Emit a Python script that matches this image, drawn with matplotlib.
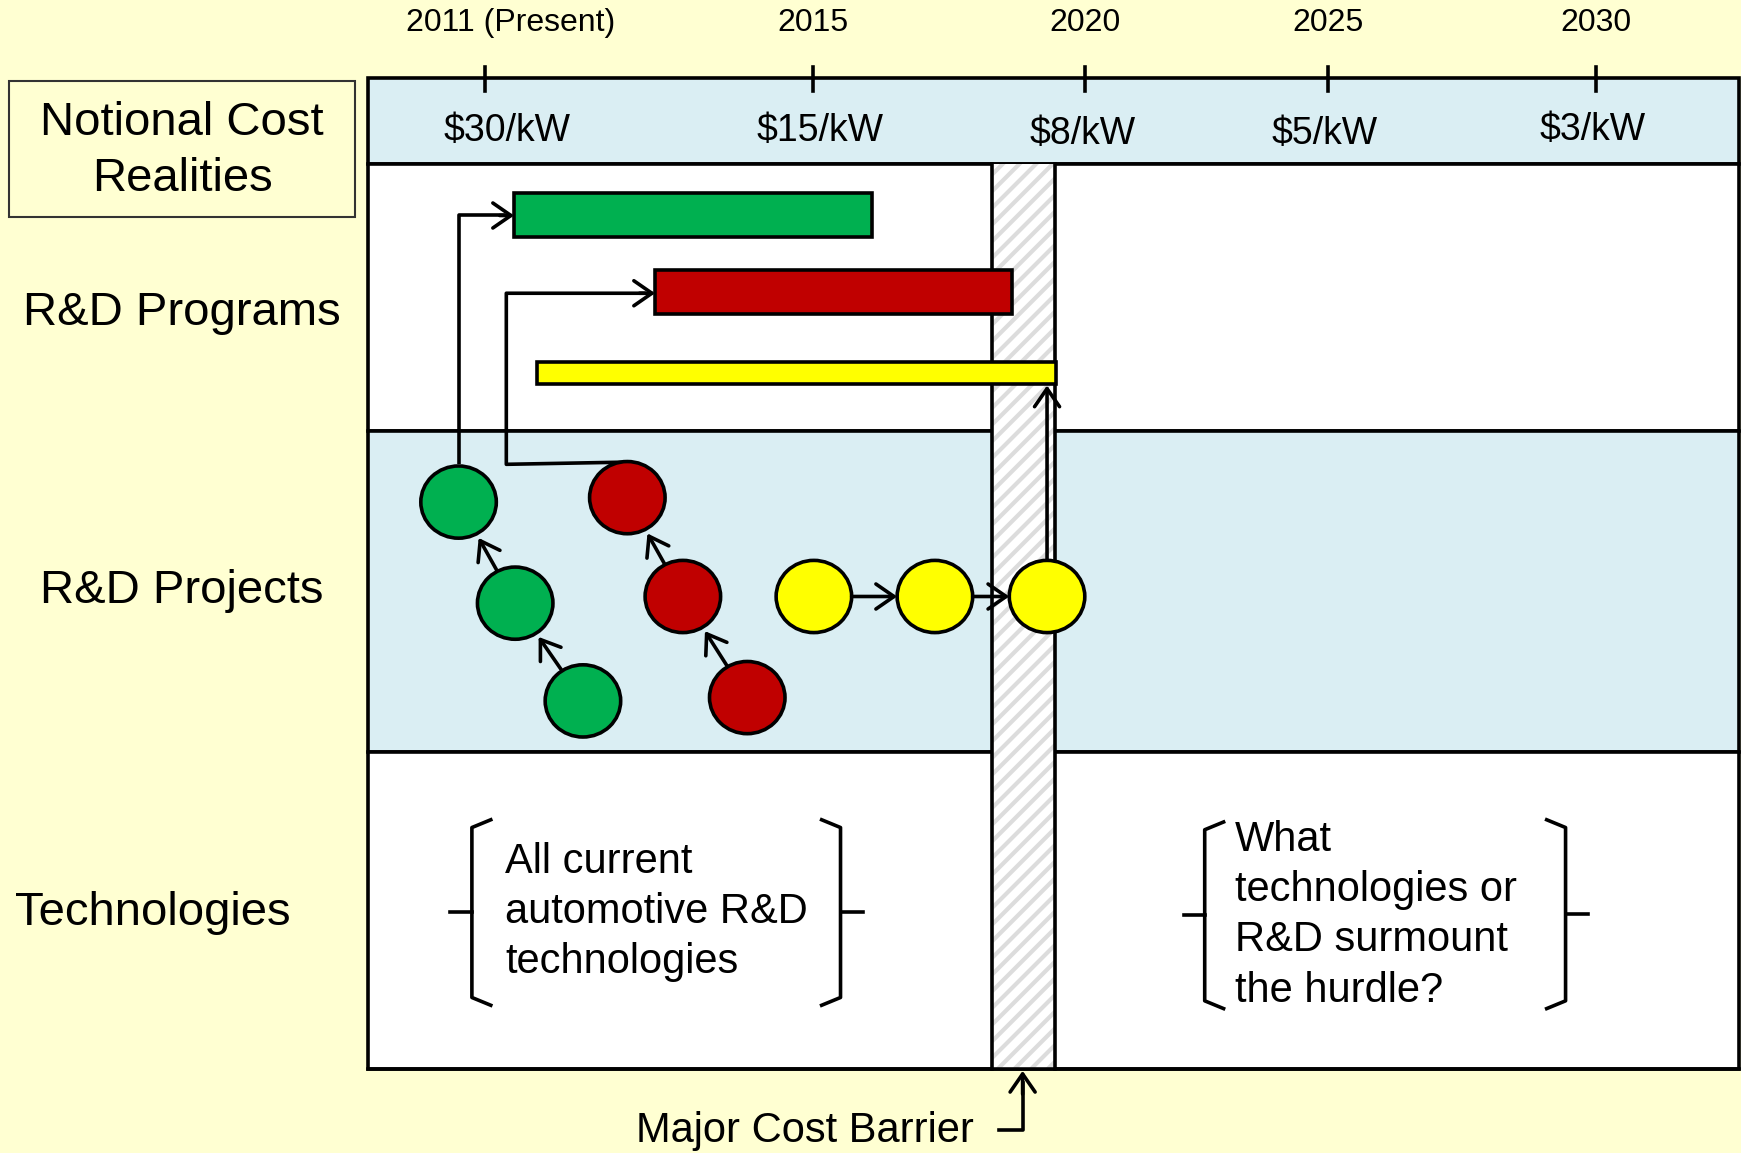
import matplotlib.pyplot as plt
from matplotlib.patches import Rectangle, Ellipse

plt.rcParams['font.family'] = ['Liberation Sans', 'DejaVu Sans']
plt.rcParams['hatch.linewidth'] = 3.0

# chart content (x / y in diagram units of a 1568 x 1038 canvas)
years = ['2011 (Present)', '2015', '2020', '2025', '2030']
year_x = [437, 732, 977, 1196, 1437]
costs = ['$30/kW', '$15/kW', '$8/kW', '$5/kW', '$3/kW']
cost_x = [457, 739, 975, 1193, 1434]
cost_y = [118, 118, 121, 121, 117]

row_labels = ['R&D Programs', 'R&D Projects', 'Technologies']
row_label_x = [164, 164, 138]
row_label_y = [282, 532, 822]
row_tops = [148, 388, 677]
row_bottoms = [388, 677, 962]
row_colors = ['white', '#DAEEF3', 'white']

# program bars: start, end, top, bottom
bar_colors = ['#00B050', '#C00000', '#FFFF00']
bar_start = [463, 590, 484]
bar_end = [785, 911, 951]
bar_top = [174, 243, 326]
bar_bottom = [213, 283, 346]

# project circles
green_x = [413, 464, 525]
green_y = [452, 543, 631]
red_x = [565, 615, 673]
red_y = [448, 537, 628]
yellow_x = [733, 842, 943]
yellow_y = [537, 537, 537]

left_text = 'All current\nautomotive R&D\ntechnologies'
right_text = 'What\ntechnologies or\nR&D surmount\nthe hurdle?'

W, H = 1568, 1038
BG = '#FFFFD2'
LW = 2.6

fig = plt.figure(figsize=(17.41, 11.53), dpi=100, facecolor=BG)
ax = fig.add_axes([0, 0, 1, 1])
ax.set_xlim(0, W)
ax.set_ylim(H, 0)
ax.axis('off')
ax.set_facecolor(BG)

left, right = 331, 1566

# header band
ax.add_patch(Rectangle((left, 70), right - left, 78, facecolor='#DAEEF3',
                       edgecolor='black', lw=LW, zorder=1))
# rows
for top, bot, c in zip(row_tops, row_bottoms, row_colors):
    ax.add_patch(Rectangle((left, top), right - left, bot - top, facecolor=c,
                           edgecolor='black', lw=LW, zorder=1))

# major cost barrier
ax.add_patch(Rectangle((893, 148), 57, 814, facecolor='white', edgecolor='#DCDCDC',
                       hatch='//', lw=0, zorder=2))
ax.plot([893, 893], [148, 962], color='black', lw=LW, zorder=3)
ax.plot([950, 950], [148, 962], color='black', lw=LW, zorder=3)
ax.plot([left, right], [962, 962], color='black', lw=LW, zorder=3)

# timeline ticks and labels
for yr, x in zip(years, year_x):
    ax.plot([x, x], [60, 82], color='black', lw=LW, zorder=4)
    ax.text(x + (23 if '(' in yr else 0), 21, yr, ha='center', va='center', fontsize=23)
for c, x, y in zip(costs, cost_x, cost_y):
    ax.text(x, y, c, ha='center', va='center', fontsize=27)

# title box
ax.add_patch(Rectangle((8, 73), 312, 122, facecolor=BG, edgecolor='#333333', lw=1.5))
ax.text(164, 136, 'Notional Cost\nRealities', ha='center', va='center',
        fontsize=34, linespacing=1.36)

for lab, x, y in zip(row_labels, row_label_x, row_label_y):
    ax.text(x, y, lab, ha='center', va='center', fontsize=34)

# program bars
for c, x0, x1, y0, y1 in zip(bar_colors, bar_start, bar_end, bar_top, bar_bottom):
    ax.add_patch(Rectangle((x0, y0), x1 - x0, y1 - y0, facecolor=c,
                           edgecolor='black', lw=LW, zorder=5))

arrow = dict(arrowstyle='->,head_length=0.65,head_width=0.45', color='black',
             lw=LW, shrinkA=0, shrinkB=0, mutation_scale=20)

# connectors from projects to programs
ax.plot([413, 413, 455], [418, 194, 194], color='black', lw=LW, zorder=4,
        solid_capstyle='butt')
ax.annotate('', xy=(463, 194), xytext=(450, 194), arrowprops=arrow, zorder=6)
ax.plot([565, 456, 456, 580], [416, 418, 264, 264], color='black', lw=LW, zorder=4)
ax.annotate('', xy=(590, 264), xytext=(576, 264), arrowprops=arrow, zorder=6)
ax.annotate('', xy=(943, 347), xytext=(943, 505), arrowprops=arrow, zorder=6)

# circles
for xs, ys, c in [(green_x, green_y, '#00B050'), (red_x, red_y, '#C00000'),
                  (yellow_x, yellow_y, '#FFFF00')]:
    for x, y in zip(xs, ys):
        ax.add_patch(Ellipse((x, y), 68, 65, facecolor=c, edgecolor='black',
                             lw=LW, zorder=7))

# arrows between circles
for xs, ys in [(green_x, green_y), (red_x, red_y)]:
    for i in range(len(xs) - 1, 0, -1):
        x0, y0, x1, y1 = xs[i], ys[i], xs[i - 1], ys[i - 1]
        dx, dy = x1 - x0, y1 - y0
        d = (dx ** 2 + dy ** 2) ** 0.5
        ax.annotate('', xy=(x0 + dx * (d - 37) / d, y0 + dy * (d - 37) / d),
                    xytext=(x0 + dx * 34 / d, y0 + dy * 34 / d), arrowprops=arrow, zorder=8)
for i in range(len(yellow_x) - 1):
    ax.annotate('', xy=(yellow_x[i + 1] - 34, yellow_y[i + 1]),
                xytext=(yellow_x[i] + 34, yellow_y[i]), arrowprops=arrow, zorder=8)


def brace(x, x_hook, x_nub, y0, y1, ym):
    ax.plot([x_hook, x, x, x_hook], [y0, y0 + 7, y1 - 7, y1], color='black', lw=LW,
            solid_joinstyle='round', zorder=6)
    ax.plot([x, x_nub], [ym, ym], color='black', lw=LW, zorder=6)


brace(425, 442, 405, 738, 905, 821)
brace(757, 740, 777, 738, 905, 821)
ax.text(455, 821, left_text, ha='left', va='center', fontsize=30, linespacing=1.33)

brace(1085, 1102, 1066, 740, 908, 824)
brace(1410, 1393, 1430, 738, 908, 823)
ax.text(1112, 824, right_text, ha='left', va='center', fontsize=30, linespacing=1.33)

# major cost barrier label
ax.text(725, 1018, 'Major Cost Barrier', ha='center', va='center', fontsize=30)
ax.plot([900, 921, 921], [1017, 1017, 975], color='black', lw=LW)
ax.annotate('', xy=(921, 964), xytext=(921, 985), arrowprops=arrow)

fig.savefig('out.png', dpi=100, facecolor=BG)
